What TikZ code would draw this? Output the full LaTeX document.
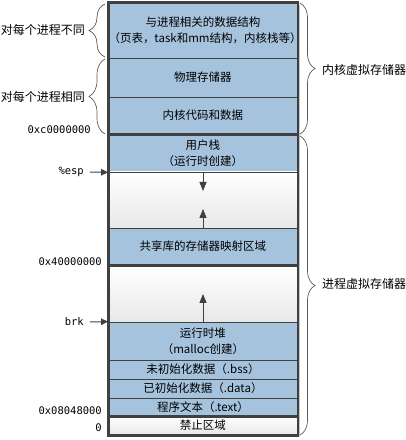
\documentclass[tikz,border=0pt]{standalone}
\usepackage{fontspec}
\newfontfamily\cjk{Noto Sans CJK SC}
\setmonofont{DejaVu Sans Mono}
\usetikzlibrary{arrows.meta,decorations.pathreplacing}
\definecolor{memblue}{RGB}{166,195,222}
\definecolor{memline}{RGB}{64,64,64}

\begin{document}
\begin{tikzpicture}[x=1pt,y=1pt,
  region/.style={draw=memline,line width=.8pt,text width=189pt,inner sep=0pt,
    font=\cjk\fontsize{11.5}{15.5}\selectfont,align=center},
  used/.style={region,fill=memblue},
  free/.style={region,top color=white,bottom color=black!9},
  addr/.style={font=\ttfamily\fontsize{10.5}{12}\selectfont,anchor=east,inner sep=0pt},
  side/.style={font=\cjk\fontsize{12}{14}\selectfont,inner sep=0pt},
  ptr/.style={-{Triangle[width=6.5pt,length=7pt]},memline,line width=1pt},
  growarr/.style={-{Triangle[width=7pt,length=9pt]},memline,line width=.8pt},
  brc/.style={decorate,decoration={brace,amplitude=#1},draw=memline!85,line width=.7pt},
]
\useasboundingbox (0,0) rectangle (406,440);

% soft shadow behind the whole map
\fill[black!22] (111,435) rectangle (300,2.5);

% the regions, from the top down: name/top/bottom/style/text
\foreach \nm/\yt/\yb/\kind/\txt in {
    perproc/437/382/used/{与进程相关的数据结构\\（页表，task和mm结构，内核栈等）},
    phys/382/343/used/物理存储器,
    kcode/343/306/used/内核代码和数据,
    stack/306/268/used/{用户栈\\（运行时创建）},
    gapa/268/212/free/{},
    shlib/212/175/used/共享库的存储器映射区域,
    gapb/175/118/free/{},
    heap/118/80/used/{运行时堆\\（malloc创建）},
    bss/80/61/used/未初始化数据（.bss）,
    data/61/42/used/已初始化数据（.data）,
    text/42/24/used/程序文本（.text）,
    forbid/24/5/free/禁止区域} {
  \node[\kind,minimum height={\yt-\yb}] (\nm) at (203,{(\yt+\yb)/2}) {\txt};
}

% thick outline and the three boundaries
\draw[memline,line width=2.8pt] (perproc.north west) rectangle (forbid.south east);
\foreach \nm in {kcode,shlib,text}
  \draw[memline,line width=2.8pt] (\nm.south west) -- (\nm.south east);

% stack grows down, shared libs and heap grow up
\coordinate (stackend) at (203,249);
\coordinate (shlibend) at (203,231);
\coordinate (heapend) at (203,146);
\draw[growarr] (stack.south) -- (stackend);
\draw[growarr] (shlib.north) -- (shlibend);
\draw[growarr] (heap.north) -- (heapend);

% addresses and pointers on the left
\node[addr] (c000) at (91,310) {0xc0000000};
\node[addr] (a4000) at (102,178) {0x40000000};
\node[addr] (a0804) at (102,29) {0x08048000};
\node[addr] (zero) at (102,12) {0};
\node[addr] (esp) at (84,268) {\%esp};
\node[addr] (brk) at (84,118) {brk};
\draw[ptr] ([xshift=6pt]esp.east) -- (stack.south west);
\draw[ptr] ([xshift=6pt]brk.east) -- (heap.north west);

% braces and what they group
\draw[brc=16] (105,383) -- (105,436);
\draw[brc=16] (105,306) -- (105,381);
\node[side] (diff) at (43,410) {对每个进程不同};
\node[side] (same) at (43,343) {对每个进程相同};
\draw[brc=15] (300,437) -- (300,306);
\draw[brc=15] (300,304) -- (300,5);
\node[side,anchor=west] (kvm) at (322,370) {内核虚拟存储器};
\node[side,anchor=west] (pvm) at (322,156) {进程虚拟存储器};
\end{tikzpicture}
\end{document}
